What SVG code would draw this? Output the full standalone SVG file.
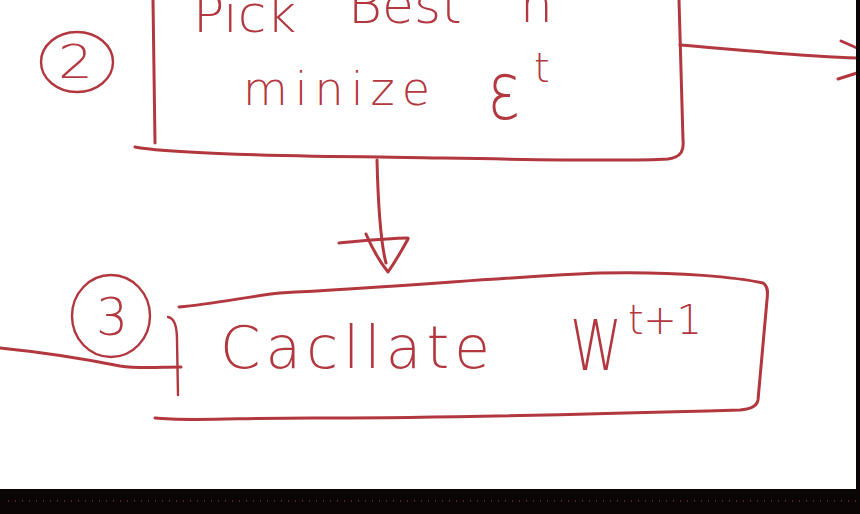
<svg xmlns="http://www.w3.org/2000/svg" width="860" height="514" viewBox="0 0 860 514">
  <style>
    .ink { fill: none; stroke: #b2373f; stroke-width: 3; stroke-linecap: round; stroke-linejoin: round; }
    .thin { stroke-width: 2.4; }
    .hand { fill: #b2373f; font-family: "DejaVu Sans", "Liberation Sans", sans-serif; font-weight: 300; }
  </style>
  <rect x="0" y="0" width="860" height="514" fill="#ffffff"/>

  <g id="step2">
    <path class="ink" d="M153,0 C154,50 154,100 155,143"/>
    <path class="ink" d="M135,147 C160,152 250,156 380,157 C500,159 620,162 668,159 C682,157 684,150 683,140 L679,0"/>
    <ellipse class="ink thin" cx="77" cy="62" rx="36" ry="30"/>
    <text class="hand" x="58" y="78" font-size="46" textLength="35" lengthAdjust="spacingAndGlyphs">2</text>
    <text class="hand" font-size="52">
      <tspan x="193" y="32">Pick</tspan>
      <tspan x="348" y="23">Best</tspan>
      <tspan x="520" y="22">h</tspan>
    </text>
    <text class="hand" x="243" y="105" font-size="46" textLength="187" lengthAdjust="spacing">minize</text>
    <text class="hand" x="487" y="119" font-size="80" textLength="34" lengthAdjust="spacingAndGlyphs">ε</text>
    <text class="hand" x="534" y="82" font-size="40">t</text>
  </g>

  <g id="step3">
    <path class="ink" d="M179,307 C215,304 250,296 280,293 C400,287 520,276 600,273 C680,271 740,278 763,283 C768,286 768,292 767,300 L758,400 C757,406 752,409 740,410 C600,414 420,418 330,418 C250,417 190,422 155,418"/>
    <path class="ink thin" d="M168,317 C174,318 177,325 177,340 L178,395"/>
    <ellipse class="ink thin" cx="111" cy="316" rx="39" ry="41"/>
    <text class="hand" x="96" y="335" font-size="52" textLength="32" lengthAdjust="spacingAndGlyphs">3</text>
    <text class="hand" x="220" y="368" font-size="58" textLength="270" lengthAdjust="spacing">Cacllate</text>
    <text class="hand" x="570" y="370" font-size="70" textLength="52" lengthAdjust="spacingAndGlyphs">W</text>
    <text class="hand" x="628" y="334" font-size="40" textLength="74" lengthAdjust="spacing">t+1</text>
  </g>

  <g id="connectors">
    <path class="ink" d="M377,160 C378,200 380,240 386,263"/>
    <path class="ink" d="M339,243 C360,241 390,238 408,238"/>
    <path class="ink" d="M366,234 C372,248 380,262 388,272 C395,262 402,250 408,239"/>
    <path class="ink" d="M680,45 C740,50 800,56 857,58"/>
    <path class="ink" d="M841,41 L857,48"/>
    <path class="ink" d="M838,79 L857,73"/>
    <path class="ink" d="M0,348 C40,352 90,360 120,366 C140,369 160,367 181,367"/>
  </g>

  <rect x="856" y="0" width="4" height="489" fill="#0c0506"/>
  <rect x="0" y="489" width="860" height="25" fill="#0c0506"/>
  <line x1="8" y1="501" x2="856" y2="501" stroke="#9a4a55" stroke-width="1" stroke-dasharray="1 6"/>
</svg>
